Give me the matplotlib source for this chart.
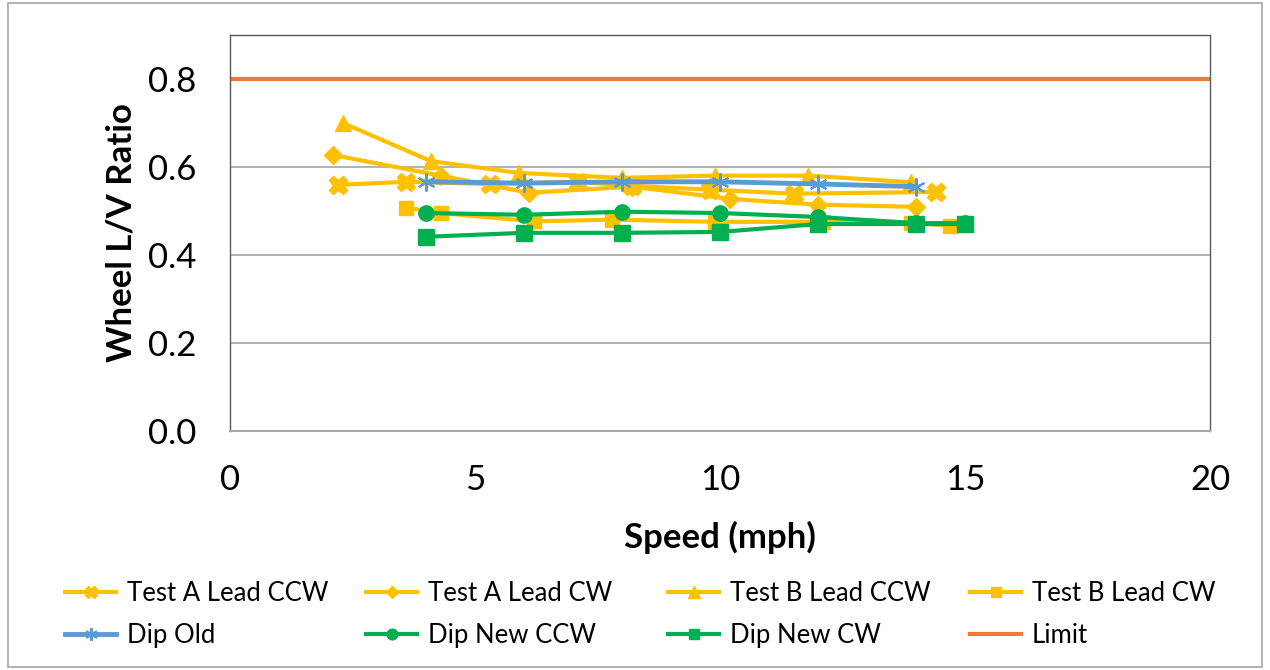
import matplotlib
matplotlib.use('Agg')
from matplotlib import pyplot as plt
from matplotlib.patches import Rectangle

plt.rcParams['font.family'] = ['Lato', 'DejaVu Sans']

# speed (mph) and wheel L/V ratio for each run
a_ccw_x = [2.2, 3.6, 5.3, 7.1, 8.2, 9.8, 11.5, 14.4]
a_ccw_y = [0.559, 0.566, 0.561, 0.566, 0.557, 0.548, 0.539, 0.543]

a_cw_x = [2.1, 4.3, 6.1, 8.2, 10.2, 12.0, 14.0]
a_cw_y = [0.627, 0.580, 0.541, 0.555, 0.527, 0.514, 0.509]

b_ccw_x = [2.3, 4.1, 5.9, 8.0, 9.9, 11.8, 13.9]
b_ccw_y = [0.700, 0.613, 0.586, 0.575, 0.580, 0.580, 0.565]

b_cw_x = [3.6, 4.3, 6.2, 7.8, 9.9, 12.1, 13.9, 14.7]
b_cw_y = [0.507, 0.495, 0.476, 0.480, 0.475, 0.475, 0.473, 0.466]

dip_old_x = [4, 6, 8, 10, 12, 14]
dip_old_y = [0.566, 0.563, 0.566, 0.566, 0.561, 0.555]

dip_ccw_x = [4, 6, 8, 10, 12, 14, 15]
dip_ccw_y = [0.495, 0.491, 0.498, 0.495, 0.486, 0.472, 0.472]

dip_cw_x = [4, 6, 8, 10, 12, 14, 15]
dip_cw_y = [0.441, 0.450, 0.450, 0.452, 0.470, 0.470, 0.470]

limit_x = [0, 20]
limit_y = [0.8, 0.8]

yellow = '#FFC000'
blue = '#5B9BD5'
green = '#00B050'
orange = '#ED7D31'

fig = plt.figure(figsize=(12.7, 6.7), dpi=100)
fig.patches.append(Rectangle((0.006, 0.004), 0.988, 0.992, transform=fig.transFigure,
                             fill=False, edgecolor='#A6A6A6', lw=1.2))
ax = fig.add_axes([0.181, 0.357, 0.772, 0.591])

h_limit, = ax.plot(limit_x, limit_y, color=orange, lw=3, label='Limit')
h_a_ccw, = ax.plot(a_ccw_x, a_ccw_y, color=yellow, lw=3, marker='X', ms=13, label='Test A Lead CCW')
h_a_cw, = ax.plot(a_cw_x, a_cw_y, color=yellow, lw=3, marker='D', ms=9, label='Test A Lead CW')
h_b_ccw, = ax.plot(b_ccw_x, b_ccw_y, color=yellow, lw=3, marker='^', ms=12, label='Test B Lead CCW')
h_b_cw, = ax.plot(b_cw_x, b_cw_y, color=yellow, lw=3, marker='s', ms=10, label='Test B Lead CW')
h_old, = ax.plot(dip_old_x, dip_old_y, color=blue, lw=3.5, marker=(6, 2, 0), ms=13, mew=1.5,
                 label='Dip Old')
h_ccw, = ax.plot(dip_ccw_x, dip_ccw_y, color=green, lw=3, marker='o', ms=11, label='Dip New CCW')
h_cw, = ax.plot(dip_cw_x, dip_cw_y, color=green, lw=3, marker='s', ms=11, label='Dip New CW')

ax.set_xlim(0, 20)
ax.set_ylim(0, 0.9)
ax.set_xticks([0, 5, 10, 15, 20])
ax.set_yticks([0.0, 0.2, 0.4, 0.6, 0.8])
ax.set_yticklabels(['0.0', '0.2', '0.4', '0.6', '0.8'])
ax.tick_params(length=0, labelsize=25)
ax.tick_params(axis='x', pad=24)
ax.tick_params(axis='y', pad=24)
ax.grid(axis='y', color='#A6A6A6', lw=1.2)
ax.set_axisbelow(True)
for side in ['top', 'right', 'left']:
    ax.spines[side].set_color('#595959')
    ax.spines[side].set_linewidth(1.0)
ax.spines['bottom'].set_color('#A6A6A6')
ax.spines['bottom'].set_linewidth(1.5)

ax.set_xlabel('Speed (mph)', fontsize=25, fontweight='bold', labelpad=18)
ax.set_ylabel('Wheel L/V Ratio', fontsize=25, fontweight='bold', labelpad=8)

# one legend per column so the columns sit at even spacing
columns = [(h_a_ccw, h_old), (h_a_cw, h_ccw), (h_b_ccw, h_cw), (h_b_cw, h_limit)]
col_left = [65, 366, 668, 970]
for pair, left in zip(columns, col_left):
    leg = fig.legend(handles=list(pair), labels=[h.get_label() for h in pair],
                     loc='upper left', bbox_to_anchor=(left / 1270, 1 - 581 / 670),
                     frameon=False, fontsize=18.5, borderpad=0, borderaxespad=0,
                     handlelength=2.0, handletextpad=0.4, labelspacing=0.68,
                     markerscale=0.7)

plt.savefig('out.png', dpi=100)
